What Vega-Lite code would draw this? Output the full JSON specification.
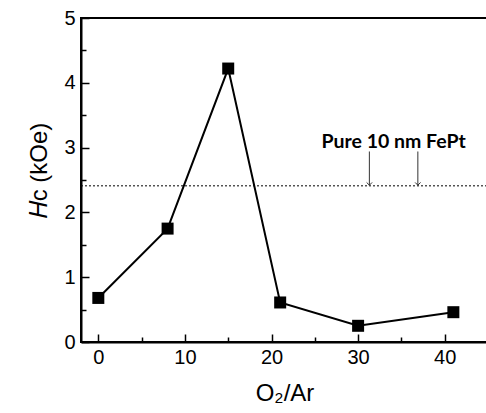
{
  "$schema": "https://vega.github.io/schema/vega-lite/v6.json",
  "width": 407,
  "height": 324,
  "autosize": {"type": "none"},
  "padding": {"left": 81, "top": 18, "right": 0, "bottom": 71},
  "background": "white",
  "config": {
    "view": {"stroke": "black", "strokeWidth": 2},
    "font": "Liberation Sans"
  },
  "resolve": {"axis": {"x": "independent", "y": "independent"}},
  "datasets": {
    "hc": [
      {"x": 0, "y": 0.68},
      {"x": 8, "y": 1.75},
      {"x": 15, "y": 4.22},
      {"x": 21, "y": 0.61},
      {"x": 30, "y": 0.25},
      {"x": 41, "y": 0.46}
    ],
    "ref": [{"x": -2, "x2": 45, "y": 2.41}],
    "note": [{"x": 34.1, "y": 3.0, "label": "Pure 10 nm FePt"}],
    "arrows": [
      {"x": 31.3, "y": 2.94, "y2": 2.42},
      {"x": 36.9, "y": 2.94, "y2": 2.42}
    ]
  },
  "layer": [
    {
      "data": {"name": "ref"},
      "mark": {"type": "rule", "strokeDash": [2, 2], "strokeWidth": 1, "color": "black"},
      "encoding": {
        "x": {"field": "x", "type": "quantitative", "scale": {"domain": [-2, 45], "nice": false, "zero": false},
          "axis": {
            "orient": "bottom",
            "values": [0, 10, 20, 30, 40],
            "tickSize": -8,
            "tickColor": "black", "tickWidth": 1.5,
            "domainColor": "black", "domainWidth": 2,
            "grid": false,
            "labelFont": "Liberation Sans", "labelFontSize": 20, "labelColor": "black",
            "labelPadding": 13,
            "title": "O₂/Ar", "titleFont": "Liberation Sans", "titleFontSize": 24, "titleFontWeight": "normal", "titleColor": "black",
            "titlePadding": 14
          }},
        "x2": {"field": "x2"},
        "y": {"field": "y", "type": "quantitative", "scale": {"domain": [0, 5], "nice": false},
          "axis": {
            "orient": "left",
            "values": [0, 1, 2, 3, 4, 5],
            "format": "d",
            "tickSize": -8,
            "tickColor": "black", "tickWidth": 1.5,
            "domainColor": "black", "domainWidth": 2,
            "grid": false,
            "labelFont": "Liberation Sans", "labelFontSize": 20, "labelColor": "black",
            "labelPadding": 14,
            "title": "𝐻c  (kOe)", "titleFont": "Liberation Sans", "titleFontSize": 24, "titleFontWeight": "normal", "titleColor": "black",
            "titlePadding": 12,
            "titleY": 152
          }}
      }
    },
    {
      "data": {"name": "hc"},
      "mark": {"type": "line", "color": "black", "strokeWidth": 2},
      "encoding": {
        "x": {"field": "x", "type": "quantitative",
          "axis": {"orient": "bottom", "values": [5, 15, 25, 35, 45], "tickSize": -5, "tickColor": "black", "tickWidth": 1.5, "domain": false, "labels": false, "grid": false, "title": null}},
        "y": {"field": "y", "type": "quantitative",
          "axis": {"orient": "left", "values": [0.5, 1.5, 2.5, 3.5, 4.5], "tickSize": -5, "tickColor": "black", "tickWidth": 1.5, "domain": false, "labels": false, "grid": false, "title": null}}
      }
    },
    {
      "data": {"name": "hc"},
      "mark": {"type": "point", "shape": "square", "filled": true, "color": "black", "size": 144, "opacity": 1},
      "encoding": {
        "x": {"field": "x", "type": "quantitative", "axis": null},
        "y": {"field": "y", "type": "quantitative", "axis": null}
      }
    },
    {
      "data": {"name": "arrows"},
      "mark": {"type": "rule", "color": "#333333", "strokeWidth": 1},
      "encoding": {
        "x": {"field": "x", "type": "quantitative", "axis": null},
        "y": {"field": "y", "type": "quantitative", "axis": null},
        "y2": {"field": "y2"}
      }
    },
    {
      "data": {"name": "arrows"},
      "mark": {"type": "point", "shape": "M-1,-1L0,0L1,-1", "filled": false, "color": "#333333", "strokeWidth": 1, "size": 30, "opacity": 1},
      "encoding": {
        "x": {"field": "x", "type": "quantitative", "axis": null},
        "y": {"field": "y2", "type": "quantitative", "axis": null}
      }
    },
    {
      "data": {"name": "note"},
      "mark": {"type": "text", "font": "Lato", "fontWeight": "bold", "fontSize": 19.5, "color": "black", "align": "center", "baseline": "alphabetic"},
      "encoding": {
        "x": {"field": "x", "type": "quantitative", "axis": null},
        "y": {"field": "y", "type": "quantitative", "axis": null},
        "text": {"field": "label"}
      }
    }
  ]
}
